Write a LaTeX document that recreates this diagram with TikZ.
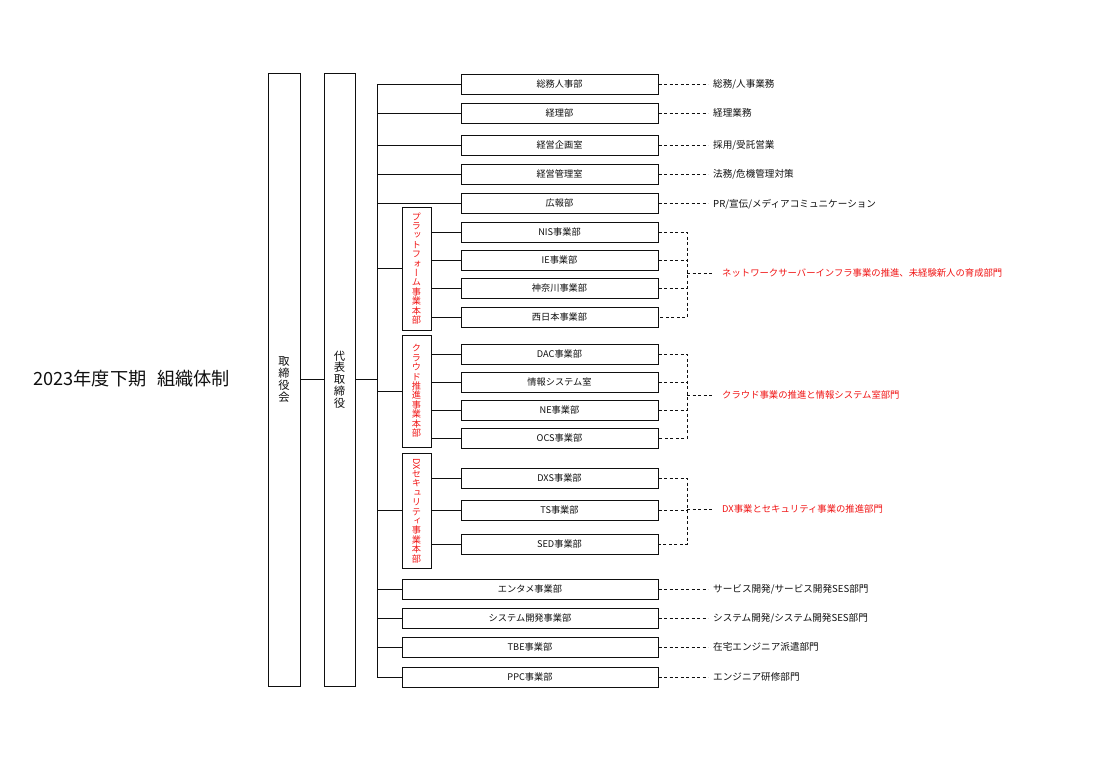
\documentclass[tikz,border=0pt]{standalone}
\usepackage{fontspec}
\setmainfont{Noto Sans CJK JP}
\newfontfamily\vjp[RawFeature=+vert]{Noto Sans CJK JP}
\usepackage{graphicx}
\definecolor{myred}{RGB}{240,20,20}
\definecolor{ink}{RGB}{15,15,15}
\tikzset{
 bx/.style={draw=ink, line width=1pt, inner sep=0pt, minimum height=20pt, font=\fontsize{9.2}{10}\selectfont, text=ink},
 wbox/.style={bx, minimum width=197pt},
 lbox/.style={bx, minimum width=256pt},
 tall/.style={draw=ink, line width=1pt, inner sep=0pt, minimum height=613pt, align=center, text=ink, font=\fontsize{11.3}{11.8}\selectfont},
 grp/.style={draw=ink, line width=1pt, inner sep=0pt, minimum width=29pt, align=center, text=myred, font=\vjp\fontsize{9.2}{9.4}\selectfont},
 lab/.style={anchor=west, inner sep=0pt, inner xsep=5pt, font=\fontsize{9.6}{10}\selectfont, text=ink},
 rlab/.style={anchor=west, inner sep=0pt, inner xsep=9pt, font=\fontsize{9.35}{10}\selectfont, text=myred},
 ln/.style={line width=1pt, draw=ink},
 dsh/.style={line width=0.8pt, draw=ink, dash pattern=on 3pt off 2.5pt},
}
\begin{document}
\begin{tikzpicture}[x=1pt,y=-1pt]
\useasboundingbox (0,0) rectangle (1116,777);

\node[anchor=west, inner sep=0pt, font=\fontsize{18.2}{20}\selectfont, text=ink] (title) at (33,379) {2023年度下期\hspace{0.6em}組織体制};

\node[tall, minimum width=32pt] (board) at (284,379.5) {取\\締\\役\\会};
\node[tall, minimum width=31pt] (ceo) at (339.5,379.5) {代\\表\\取\\締\\役};

% top departments
\node[wbox] (soumu)  at (559.5,84)  {総務人事部};
\node[wbox] (keiri)  at (559.5,113) {経理部};
\node[wbox] (kikaku) at (559.5,145) {経営企画室};
\node[wbox] (kanri)  at (559.5,174) {経営管理室};
\node[wbox] (kouhou) at (559.5,203) {広報部};

% groups
\node[grp, minimum height=123pt] (g1) at (416.5,268.5) {プ\\ラ\\ッ\\ト\\フ\\ォ\\ー\\ム\\事\\業\\本\\部};
\node[grp, minimum height=112pt] (g2) at (416.5,391) {ク\\ラ\\ウ\\ド\\推\\進\\事\\業\\本\\部};
\node[grp, minimum height=115pt] (g3) at (416.5,510.5) {\rotatebox{-90}{DX}\\セ\\キ\\ュ\\リ\\テ\\ィ\\事\\業\\本\\部};

\node[wbox] (nis)   at (559.5,232) {NIS事業部};
\node[wbox] (ie)    at (559.5,260) {IE事業部};
\node[wbox] (kana)  at (559.5,288) {神奈川事業部};
\node[wbox] (nishi) at (559.5,317) {西日本事業部};
\node[wbox] (dac)   at (559.5,354) {DAC事業部};
\node[wbox] (joho)  at (559.5,382) {情報システム室};
\node[wbox] (ne)    at (559.5,410) {NE事業部};
\node[wbox] (ocs)   at (559.5,438) {OCS事業部};
\node[wbox] (dxs)   at (559.5,478) {DXS事業部};
\node[wbox] (ts)    at (559.5,510) {TS事業部};
\node[wbox] (sed)   at (559.5,544) {SED事業部};

% bottom departments
\node[lbox] (entame) at (530,589) {エンタメ事業部};
\node[lbox] (sysdev) at (530,618) {システム開発事業部};
\node[lbox] (tbe)    at (530,647) {TBE事業部};
\node[lbox] (ppc)    at (530,677) {PPC事業部};

% right labels
\node[lab] (l1) at (708,84)  {総務/人事業務};
\node[lab] (l2) at (708,113) {経理業務};
\node[lab] (l3) at (708,145) {採用/受託営業};
\node[lab] (l4) at (708,174) {法務/危機管理対策};
\node[lab] (l5) at (708,204) {PR/宣伝/メディアコミュニケーション};
\node[lab] (l6) at (708,589) {サービス開発/サービス開発SES部門};
\node[lab] (l7) at (708,618) {システム開発/システム開発SES部門};
\node[lab] (l8) at (708,647) {在宅エンジニア派遣部門};
\node[lab] (l9) at (708,677) {エンジニア研修部門};

\node[rlab] (r1) at (713,273) {ネットワークサーバーインフラ事業の推進、未経験新人の育成部門};
\node[rlab] (r2) at (713,395) {クラウド事業の推進と情報システム室部門};
\node[rlab] (r3) at (713,509) {DX事業とセキュリティ事業の推進部門};

% connectors
\coordinate (tx) at (377,0);
\coordinate (bk) at (687,0);
\draw[ln] (board.east) -- (ceo.west);
\draw[ln] (ceo.east) -- (tx |- ceo.east);
\draw[ln] (soumu.west) -- (tx |- soumu) -- (tx |- ppc) -- (ppc.west);
\foreach \n in {keiri,kikaku,kanri,kouhou,g1,g2,g3,entame,sysdev,tbe}
  \draw[ln] (tx |- \n) -- (\n.west);
\foreach \g/\n in {g1/nis,g1/ie,g1/kana,g1/nishi,g2/dac,g2/joho,g2/ne,g2/ocs,g3/dxs,g3/ts,g3/sed}
  \draw[ln] (\g.east |- \n) -- (\n.west);

\foreach \n/\l in {soumu/l1,keiri/l2,kikaku/l3,kanri/l4,entame/l6,sysdev/l7,tbe/l8,ppc/l9}
  \draw[dsh] (\n.east) -- (\l.west);
\draw[dsh] (kouhou.east) -- (kouhou.east -| l5.west);

\draw[dsh] (nis.east) -- (bk |- nis) -- (bk |- nishi) -- (nishi.east);
\draw[dsh] (ie.east) -- (bk |- ie);
\draw[dsh] (kana.east) -- (bk |- kana);
\draw[dsh] (bk |- r1) -- (r1.west);

\draw[dsh] (dac.east) -- (bk |- dac) -- (bk |- ocs) -- (ocs.east);
\draw[dsh] (joho.east) -- (bk |- joho);
\draw[dsh] (ne.east) -- (bk |- ne);
\draw[dsh] (bk |- r2) -- (r2.west);

\draw[dsh] (dxs.east) -- (bk |- dxs) -- (bk |- sed) -- (sed.east);
\draw[dsh] (ts.east) -- (bk |- ts);
\draw[dsh] (bk |- r3) -- (r3.west);
\end{tikzpicture}
\end{document}
